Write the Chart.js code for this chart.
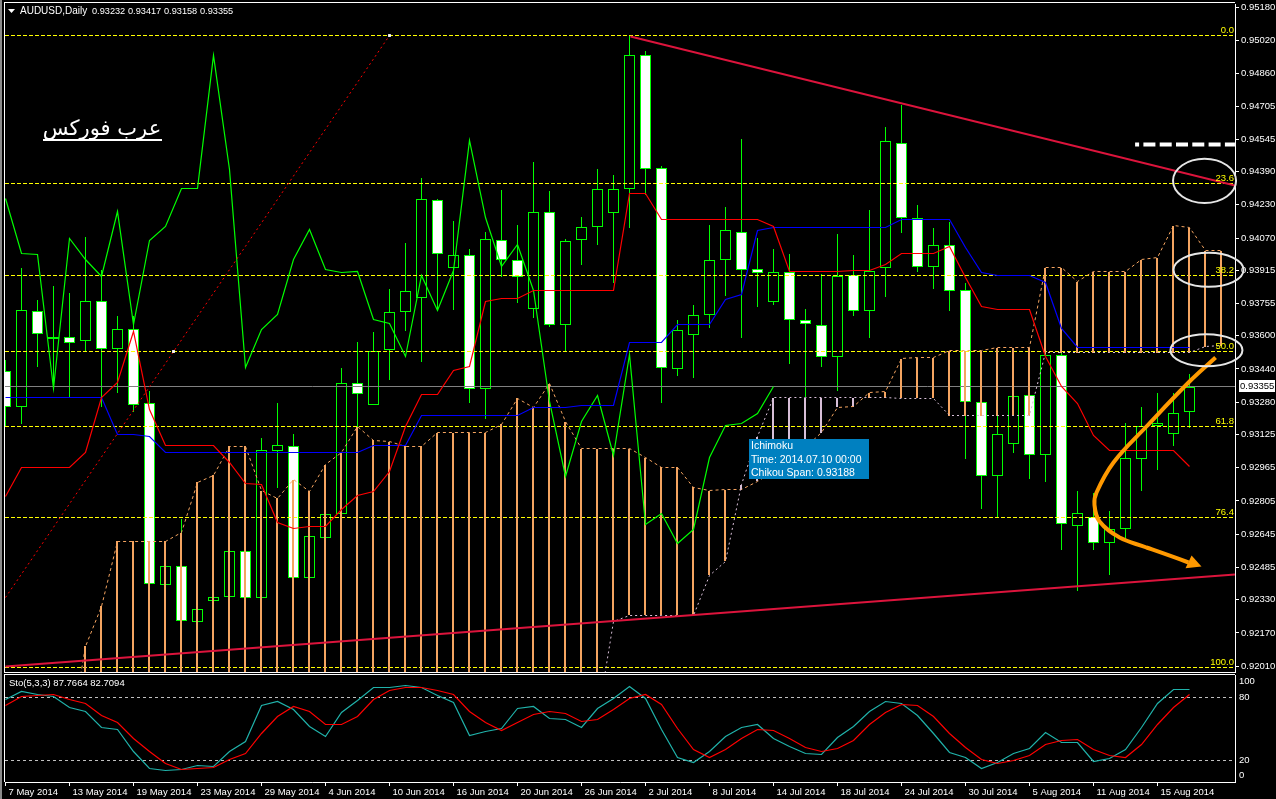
<!DOCTYPE html>
<html>
<head>
<meta charset="utf-8">
<title>AUDUSD,Daily</title>
<script src="https://cdn.jsdelivr.net/npm/chart.js@4/dist/chart.umd.min.js"></script>
<style>
  html, body { margin: 0; padding: 0; background: #000; overflow: hidden; }
  #frame { position: absolute; left: 0; top: 0; width: 2px; height: 799px; background: #8a8a8a; }
  #priceChart { position: absolute; left: 0; top: 0; }
  #stoChart { position: absolute; left: 0; top: 673px; }
</style>
</head>
<body>
<canvas id="priceChart" width="1276" height="676"></canvas>
<canvas id="stoChart" width="1276" height="126"></canvas>
<div id="frame"></div>
<script>
// candles, one per day, oldest first
const opens = [0.93432,0.93255,0.93721,0.93586,0.93595,0.93576,0.93768,0.93538,0.93634,0.93274,0.92399,0.92490,0.92221,0.92322,0.92341,0.92562,0.92336,0.93043,0.93071,0.92433,0.92625,0.92740,0.93374,0.93269,0.93533,0.93715,0.93783,0.94253,0.93927,0.93989,0.93345,0.94061,0.93965,0.93730,0.94196,0.93653,0.94061,0.94124,0.94191,0.94306,0.94950,0.94407,0.93441,0.93605,0.93701,0.93965,0.94100,0.93922,0.93763,0.93908,0.93677,0.93653,0.93499,0.93893,0.93721,0.93927,0.94527,0.94167,0.93932,0.94037,0.93821,0.93283,0.92923,0.93081,0.93317,0.93024,0.93509,0.92683,0.92726,0.92601,0.92668,0.93009,0.93168,0.93125,0.93232]
const highs = [0.93485,0.93927,0.93773,0.93840,0.93807,0.94075,0.93917,0.93696,0.93696,0.93336,0.92490,0.92716,0.92284,0.92341,0.92562,0.92562,0.93110,0.93274,0.93129,0.92634,0.92740,0.93446,0.93571,0.93619,0.93826,0.94047,0.94359,0.94258,0.94153,0.94018,0.94100,0.94301,0.94134,0.94436,0.94297,0.94066,0.94172,0.94402,0.94373,0.95046,0.94969,0.94417,0.93677,0.93749,0.94134,0.94220,0.94547,0.94071,0.94018,0.93994,0.93730,0.93898,0.94090,0.93989,0.94205,0.94604,0.94710,0.94229,0.94119,0.94148,0.93855,0.93303,0.93293,0.93365,0.93341,0.93557,0.93533,0.92851,0.92841,0.92755,0.93178,0.93259,0.93326,0.93326,0.93417]
const lows = [0.93163,0.93173,0.93451,0.93365,0.93307,0.93523,0.93255,0.93326,0.93235,0.92404,0.92399,0.92226,0.92221,0.92322,0.92341,0.92336,0.92336,0.92865,0.92433,0.92433,0.92625,0.92740,0.93158,0.93269,0.93389,0.93624,0.93475,0.93725,0.93725,0.93278,0.93197,0.93884,0.93759,0.93687,0.93644,0.93528,0.93941,0.94037,0.93855,0.94119,0.94278,0.93274,0.93408,0.93398,0.93639,0.93792,0.93590,0.93739,0.93749,0.93466,0.93303,0.93451,0.93336,0.93696,0.93590,0.93787,0.94095,0.93908,0.93826,0.93721,0.93005,0.92764,0.92730,0.93038,0.92913,0.92894,0.92567,0.92370,0.92567,0.92447,0.92611,0.92851,0.92952,0.93067,0.93158]
const closes = [0.93255,0.93725,0.93609,0.93595,0.93567,0.93768,0.93538,0.93634,0.93269,0.92404,0.92490,0.92226,0.92284,0.92341,0.92562,0.92336,0.93048,0.93076,0.92433,0.92634,0.92740,0.93374,0.93321,0.93528,0.93715,0.93817,0.94258,0.93994,0.93989,0.93345,0.94066,0.93965,0.93884,0.94196,0.93653,0.94056,0.94124,0.94306,0.94306,0.94950,0.94402,0.93446,0.93629,0.93701,0.93965,0.94110,0.93917,0.93903,0.93908,0.93677,0.93658,0.93499,0.93888,0.93721,0.93912,0.94537,0.94167,0.93932,0.94037,0.93817,0.93283,0.92923,0.93125,0.93312,0.93024,0.93509,0.92692,0.92745,0.92601,0.92668,0.93014,0.93168,0.93178,0.93226,0.93355]

// ichimoku lines
const tenkan = [0.92827,0.92966,0.92966,0.92966,0.92966,0.93038,0.93303,0.93374,0.93619,0.93245,0.93071,0.93071,0.93071,0.93071,0.92990,0.92889,0.92884,0.92702,0.92673,0.92683,0.92683,0.92764,0.92831,0.92851,0.92947,0.93163,0.93317,0.93317,0.93432,0.93451,0.93763,0.93778,0.93778,0.93817,0.93817,0.93817,0.93817,0.93817,0.93817,0.94282,0.94282,0.94157,0.94157,0.94157,0.94157,0.94157,0.94157,0.94157,0.94124,0.93908,0.93908,0.93908,0.93908,0.93912,0.93912,0.93941,0.93994,0.93994,0.93994,0.94028,0.93879,0.93739,0.93725,0.93725,0.93725,0.93499,0.93355,0.93274,0.93120,0.93048,0.93048,0.93048,0.93048,0.93048,0.92971]
const kijun = [0.93303,0.93303,0.93303,0.93303,0.93303,0.93303,0.93303,0.93125,0.93125,0.93115,0.93038,0.93038,0.93038,0.93038,0.93038,0.93038,0.93038,0.93038,0.93038,0.93038,0.93038,0.93038,0.93038,0.93071,0.93071,0.93071,0.93216,0.93216,0.93216,0.93216,0.93216,0.93216,0.93216,0.93255,0.93255,0.93255,0.93264,0.93264,0.93264,0.93566,0.93566,0.93566,0.93653,0.93653,0.93653,0.93773,0.93797,0.94105,0.94119,0.94119,0.94119,0.94119,0.94119,0.94119,0.94119,0.94119,0.94157,0.94157,0.94157,0.94157,0.94023,0.93903,0.93888,0.93888,0.93888,0.93855,0.93634,0.93542,0.93542,0.93542,0.93542,0.93542,0.93542,0.93542,0.93542]
const chikou = [0.94258,0.93994,0.93989,0.93345,0.94066,0.93965,0.93884,0.94196,0.93653,0.94056,0.94124,0.94306,0.94306,0.94950,0.94402,0.93446,0.93629,0.93701,0.93965,0.94110,0.93917,0.93903,0.93908,0.93677,0.93658,0.93499,0.93888,0.93721,0.93912,0.94537,0.94167,0.93932,0.94037,0.93817,0.93283,0.92923,0.93188,0.93312,0.93024,0.93509,0.92692,0.92745,0.92601,0.92668,0.93014,0.93168,0.93178,0.93226,0.93355]
const spanA = [null,null,null,null,0.91659,0.92106,0.92298,0.92610,0.92610,0.92610,0.92610,0.92653,0.92894,0.92928,0.93067,0.93067,0.92855,0.92817,0.92908,0.92851,0.92980,0.93038,0.93163,0.93096,0.93091,0.93067,0.93067,0.93134,0.93134,0.93134,0.93134,0.93173,0.93298,0.93255,0.93370,0.93187,0.93057,0.93057,0.93057,0.93057,0.93014,0.92966,0.92966,0.92870,0.92855,0.92860,0.92860,0.92899,0.92947,0.92995,0.93062,0.93134,0.93255,0.93259,0.93326,0.93331,0.93490,0.93494,0.93494,0.93528,0.93528,0.93528,0.93542,0.93542,0.93542,0.93927,0.93927,0.93860,0.93908,0.93908,0.93908,0.93965,0.93975,0.94129,0.94119,0.94009,0.94009]
const spanB = [null,null,null,null,0.91755,0.91755,0.91755,0.91755,0.91755,0.91755,0.91755,0.91755,0.91755,0.91755,0.91755,0.91755,0.91755,0.91755,0.91755,0.91755,0.91755,0.91755,0.91755,0.91755,0.91755,0.91755,0.91755,0.91755,0.91755,0.91755,0.91755,0.91755,0.91755,0.91755,0.91755,0.91755,0.91755,0.91755,0.92226,0.92255,0.92255,0.92255,0.92255,0.92255,0.92447,0.92514,0.92884,0.93115,0.93302,0.93302,0.93302,0.93302,0.93302,0.93302,0.93302,0.93302,0.93298,0.93298,0.93298,0.93216,0.93216,0.93216,0.93216,0.93216,0.93216,0.93519,0.93519,0.93519,0.93519,0.93519,0.93519,0.93519,0.93519,0.93519,0.93519,0.93548,0.93552]

// stochastic pane
const stoMain = [78.1,85.7,82.2,81.2,70.4,66.0,51.4,49.5,28.2,12.3,10.4,11.4,15.2,13.9,28.2,38.1,71.7,75.8,68.5,52.0,42.8,65.4,76.8,89.5,89.5,90.8,89.5,81.9,74.9,43.8,47.6,50.1,69.5,71.4,59.6,58.7,51.4,69.5,79.3,90.1,79.0,48.9,23.1,18.1,27.9,42.5,51.4,54.2,40.3,32.7,26.9,25.7,41.9,52.0,66.3,76.2,74.3,63.1,45.7,27.3,22.2,12.3,17.7,26.0,31.4,46.6,36.5,36.5,18.4,21.9,29.8,51.4,73.6,87.6,87.8]
const stoSignal = [71.7,80.6,81.6,82.5,77.4,73.6,63.1,56.2,40.9,28.2,17.1,11.7,12.3,13.6,20.3,26.6,45.7,61.6,71.1,66.3,54.2,53.6,61.6,77.4,86.3,89.2,89.5,86.6,82.2,66.3,55.8,47.9,55.8,63.8,66.3,64.1,56.8,59.3,67.9,79.0,82.8,72.7,50.4,29.8,22.8,29.8,40.9,49.5,48.2,40.9,32.3,28.5,30.8,39.3,53.6,65.7,72.7,71.7,61.6,45.7,32.3,20.3,17.1,19.6,25.0,34.9,38.4,40.0,29.8,25.0,22.8,35.5,53.6,70.4,82.7]
const stoLevels = [20, 80]

// axes
const dateLabels = ["7 May 2014","13 May 2014","19 May 2014","23 May 2014","29 May 2014","4 Jun 2014","10 Jun 2014","16 Jun 2014","20 Jun 2014","26 Jun 2014","2 Jul 2014","8 Jul 2014","14 Jul 2014","18 Jul 2014","24 Jul 2014","30 Jul 2014","5 Aug 2014","11 Aug 2014","15 Aug 2014"]
const priceTicks = [0.95180,0.95020,0.94860,0.94705,0.94545,0.94390,0.94230,0.94070,0.93915,0.93755,0.93600,0.93440,0.93280,0.93125,0.92965,0.92805,0.92645,0.92485,0.92330,0.92170,0.92010]
const stoTickValues = [6, 20, 80, 95]
const stoTickLabels = ["0", "20", "80", "100"]

// retracement and drawn objects, as [bar, price]
const fibPrices = [0.95046,0.94330,0.93888,0.93525,0.93163,0.92723,0.92003]
const fibNames = ["0.0","23.6","38.2","50.0","61.8","76.4","100.0"]
const currentPrice = 0.93355
const upperTrend = [[39.06,0.95041],[76.84,0.94321]]
const lowerTrend = [[0,0.92010],[76.84,0.92452]]
const fibBase = [[0,0.92341],[24,0.95046]]
const fibAnchors = [[10.5,0.93523],[24,0.95046]]
const whiteDash = [[70.6,0.94522],[76.84,0.94522]]
const arrowPath = [[75.63,0.93495],[74,0.93379],[71.31,0.93163],[69.25,0.92990],[68.19,0.92846],[68.06,0.92788],[68.38,0.92707],[69.63,0.92630],[71.31,0.92582],[73.94,0.92510]]
const arrowHead = [[73.75,0.92481],[74.75,0.92490],[74.13,0.92543]]
// bar, price, radius in bars, radius in price
const ellipses = [[74.94,0.94345,1.97,0.00106],[75.19,0.93917,2.19,0.00082],[75.06,0.93530,2.25,0.00077]]

const X_MIN = -1 / 32
const X_MAX = 76.84375
const GREEN = "#00ff00"
const SANDY = "#f4a460"
const THISTLE = "#d8bfd8"
const CRIMSON = "#dc143c"
const SANS = "'Liberation Sans'"
const AXIS_FONT = { family: SANS, size: 9.5 }

function series(values) {
  const points = []
  values.forEach((v, i) => {
    if (v !== null) points.push({ x: i, y: v })
  })
  return points
}

function pairs(list) {
  return list.map((p) => ({ x: p[0], y: p[1] }))
}

function lineSet(data, color, width, dash, order, extra) {
  return Object.assign({
    type: "line",
    data: data,
    borderColor: color,
    borderWidth: width,
    borderDash: dash || [],
    pointRadius: 0,
    tension: 0,
    order: order,
  }, extra || {})
}

function barSet(data, thickness, fill, order, extra) {
  return Object.assign({
    type: "bar",
    data: data,
    backgroundColor: fill,
    barThickness: thickness,
    borderWidth: 0,
    borderSkipped: false,
    inflateAmount: 0,
    grouped: false,
    order: order,
  }, extra || {})
}

// MT4 draws on whole pixels, so snap the marks before they are painted
const snapPlugin = {
  id: "snap",
  beforeDatasetsDraw(chart) {
    chart.getSortedVisibleDatasetMetas().forEach((meta) => {
      meta.data.forEach((el) => {
        if (meta.type === "bar") {
          el.y = Math.round(el.y)
          el.base = Math.round(el.base)
        } else {
          el.y = Math.floor(el.y) + 0.5
        }
      })
    })
  },
}

function drawFrame(chart, top, bottom) {
  const ctx = chart.ctx
  const area = chart.chartArea
  ctx.fillStyle = "#fff"
  ctx.fillRect(4, top, area.right - 4, 1)
  ctx.fillRect(4, top, 1, bottom - top)
}

const priceOverlay = {
  id: "priceOverlay",
  afterDraw(chart) {
    const ctx = chart.ctx
    const xs = chart.scales.x
    const ys = chart.scales.y
    const area = chart.chartArea
    ctx.save()
    drawFrame(chart, 2, area.bottom)
    ctx.fillStyle = "#fff"
    ctx.fillRect(4, area.bottom, area.right - 4, 1)

    // retracement level names
    ctx.font = "9.5px " + SANS
    ctx.fillStyle = "#ffff00"
    ctx.textAlign = "right"
    ctx.textBaseline = "alphabetic"
    fibNames.forEach((name, i) => {
      ctx.fillText(name, area.right - 1, Math.floor(ys.getPixelForValue(fibPrices[i])) - 2)
    })

    // arrow head
    ctx.fillStyle = "#ff9900"
    ctx.beginPath()
    arrowHead.forEach((p, i) => {
      const px = xs.getPixelForValue(p[0])
      const py = ys.getPixelForValue(p[1])
      if (i === 0) ctx.moveTo(px, py)
      else ctx.lineTo(px, py)
    })
    ctx.closePath()
    ctx.fill()

    // ellipses round the levels
    ctx.strokeStyle = "#e6e6e6"
    ctx.lineWidth = 2
    ellipses.forEach((e) => {
      const cx = xs.getPixelForValue(e[0])
      const cy = ys.getPixelForValue(e[1])
      const rx = xs.getPixelForValue(e[0] + e[2]) - cx
      const ry = cy - ys.getPixelForValue(e[1] + e[3])
      ctx.beginPath()
      ctx.ellipse(cx, cy, rx, ry, 0, 0, Math.PI * 2)
      ctx.stroke()
    })

    // current price tag
    const tagY = Math.floor(ys.getPixelForValue(currentPrice))
    ctx.fillStyle = "#fff"
    ctx.fillRect(area.right + 4, tagY - 6, 36, 12)
    ctx.fillStyle = "#000"
    ctx.textAlign = "left"
    ctx.textBaseline = "middle"
    ctx.font = "9.5px " + SANS
    ctx.fillText(currentPrice.toFixed(5), area.right + 5, tagY)

    // header
    ctx.fillStyle = "#fff"
    ctx.beginPath()
    ctx.moveTo(8, 9)
    ctx.lineTo(15, 9)
    ctx.lineTo(11.5, 13)
    ctx.closePath()
    ctx.fill()
    ctx.font = "10px " + SANS
    ctx.fillText("AUDUSD,Daily", 20, 11)
    ctx.font = "9.2px " + SANS
    ;["0.93232", "0.93417", "0.93158", "0.93355"].forEach((t, i) => {
      ctx.fillText(t, 92 + i * 36, 11)
    })

    // arabic caption
    ctx.font = "21px 'DejaVu Sans'"
    ctx.direction = "rtl"
    ctx.textAlign = "center"
    ctx.textBaseline = "alphabetic"
    ctx.fillText("عرب فوركس", 102, 135)
    ctx.direction = "ltr"
    ctx.fillRect(43, 139, 119, 2)

    // crosshair tooltip
    ctx.fillStyle = "#0080c0"
    ctx.fillRect(749, 439, 120, 40)
    ctx.fillStyle = "#fff"
    ctx.font = "10.5px " + SANS
    ctx.textAlign = "left"
    ctx.textBaseline = "middle"
    ctx.fillText("Ichimoku", 751, 446)
    ctx.fillText("Time: 2014.07.10 00:00", 751, 460)
    ctx.fillText("Chikou Span: 0.93188", 751, 473)
    ctx.restore()
  },
}

const stoOverlay = {
  id: "stoOverlay",
  afterDraw(chart) {
    const ctx = chart.ctx
    ctx.save()
    drawFrame(chart, 1, chart.chartArea.bottom)
    ctx.fillStyle = "#fff"
    ctx.font = "9.5px " + SANS
    ctx.textBaseline = "middle"
    ctx.fillText("Sto(5,3,3) 87.7664 82.7094", 9, 10)
    ctx.restore()
  },
}

function initializePriceChart() {
  const bodies = opens.map((o, i) => ({ x: i, y: [o, closes[i]] }))
  const wicks = highs.map((h, i) => ({ x: i, y: [lows[i], h] }))
  const bodyFill = opens.map((o, i) => (closes[i] > o ? "#000" : "#fff"))
  const kumo = []
  const kumoFill = []
  spanA.forEach((a, i) => {
    if (a === null) return
    kumo.push({ x: i + X_MIN, y: [a, spanB[i]] })
    kumoFill.push(a >= spanB[i] ? SANDY : THISTLE)
  })

  const datasets = [
    barSet(wicks, 1, GREEN, 20),
    barSet(bodies, 11, bodyFill, 19, { borderWidth: 1, borderColor: GREEN }),
  ]
  fibPrices.forEach((p) => {
    datasets.push(lineSet([{ x: X_MIN, y: p }, { x: X_MAX, y: p }], "#ffff00", 1, [4, 2], 18))
  })
  datasets.push(lineSet([{ x: X_MIN, y: currentPrice }, { x: X_MAX, y: currentPrice }], "#808080", 1, [], 17))
  datasets.push(barSet(kumo, 2, kumoFill, 16))
  datasets.push(lineSet(series(spanA), SANDY, 1, [3, 3], 15))
  datasets.push(lineSet(series(spanB), THISTLE, 1, [2, 3], 14))
  datasets.push(lineSet(series(chikou), GREEN, 1.2, [], 13))
  datasets.push(lineSet(series(kijun), "#0000ff", 1.2, [], 12))
  datasets.push(lineSet(series(tenkan), "#ff0000", 1.2, [], 11))
  datasets.push(lineSet(pairs(fibBase), "#ff0000", 1, [2, 3], 10))
  datasets.push(lineSet(pairs(fibAnchors), "rgba(0,0,0,0)", 0, [], 9, {
    showLine: false, pointRadius: 2, pointStyle: "rect", pointBackgroundColor: "#fff", pointBorderWidth: 0,
  }))
  datasets.push(lineSet(pairs(upperTrend), CRIMSON, 2, [], 8))
  datasets.push(lineSet(pairs(lowerTrend), CRIMSON, 2, [], 7))
  datasets.push(lineSet(pairs(whiteDash), "#fff", 4, [12, 4.3], 6, { borderDashOffset: 8 }))
  datasets.push(lineSet(pairs(arrowPath), "#ff9900", 4, [], 5, { tension: 0.4 }))

  new Chart(document.getElementById("priceChart"), {
    data: { datasets: datasets },
    plugins: [snapPlugin, priceOverlay],
    options: {
      responsive: false,
      animation: false,
      events: [],
      layout: { padding: { left: 5, top: 3 } },
      plugins: { legend: { display: false }, tooltip: { enabled: false } },
      scales: {
        x: { type: "linear", display: false, offset: false, min: X_MIN, max: X_MAX },
        y: {
          position: "right",
          min: 0.91982,
          max: 0.95196,
          afterFit(scale) {
            scale.width = 41
            scale.paddingTop = 0
            scale.paddingBottom = 0
          },
          afterBuildTicks(scale) { scale.ticks = priceTicks.map((v) => ({ value: v })) },
          grid: { drawOnChartArea: false, color: "#fff", tickLength: 4 },
          border: { color: "#fff" },
          ticks: {
            color: "#fff",
            font: AXIS_FONT,
            padding: 2,
            autoSkip: false,
            callback: (v) => v.toFixed(5),
          },
        },
      },
    },
  })
}

function initializeStoChart() {
  const datasets = stoLevels.map((v) =>
    lineSet([{ x: X_MIN, y: v }, { x: X_MAX, y: v }], "#c0c0c0", 1, [3, 3], 3))
  datasets.push(lineSet(series(stoMain), "#20b2aa", 1.2, [], 2))
  datasets.push(lineSet(series(stoSignal), "#ff0000", 1.2, [], 1))

  new Chart(document.getElementById("stoChart"), {
    data: { datasets: datasets },
    plugins: [snapPlugin, stoOverlay],
    options: {
      responsive: false,
      animation: false,
      events: [],
      layout: { padding: { left: 5, top: 2 } },
      plugins: { legend: { display: false }, tooltip: { enabled: false } },
      scales: {
        x: {
          type: "linear",
          min: X_MIN,
          max: X_MAX,
          afterFit(scale) {
            scale.height = 17
            scale.paddingLeft = 0
            scale.paddingRight = 0
          },
          afterBuildTicks(scale) { scale.ticks = dateLabels.map((d, i) => ({ value: i * 4 })) },
          grid: { drawOnChartArea: false, color: "#fff", tickLength: 4 },
          border: { color: "#fff" },
          ticks: {
            color: "#fff",
            font: AXIS_FONT,
            align: "start",
            labelOffset: 3,
            padding: 1,
            autoSkip: false,
            maxRotation: 0,
            callback: (v) => dateLabels[v / 4],
          },
        },
        y: {
          position: "right",
          min: -0.67,
          max: 101.2,
          afterFit(scale) {
            scale.width = 41
            scale.paddingTop = 0
            scale.paddingBottom = 0
          },
          afterBuildTicks(scale) { scale.ticks = stoTickValues.map((v) => ({ value: v })) },
          grid: { display: true, drawOnChartArea: false, drawTicks: false, color: "#fff" },
          border: { color: "#fff" },
          ticks: {
            color: "#fff",
            font: AXIS_FONT,
            padding: 4,
            autoSkip: false,
            callback: (v) => stoTickLabels[stoTickValues.indexOf(v)],
          },
        },
      },
    },
  })
}

initializePriceChart()
initializeStoChart()
</script>
</body>
</html>
